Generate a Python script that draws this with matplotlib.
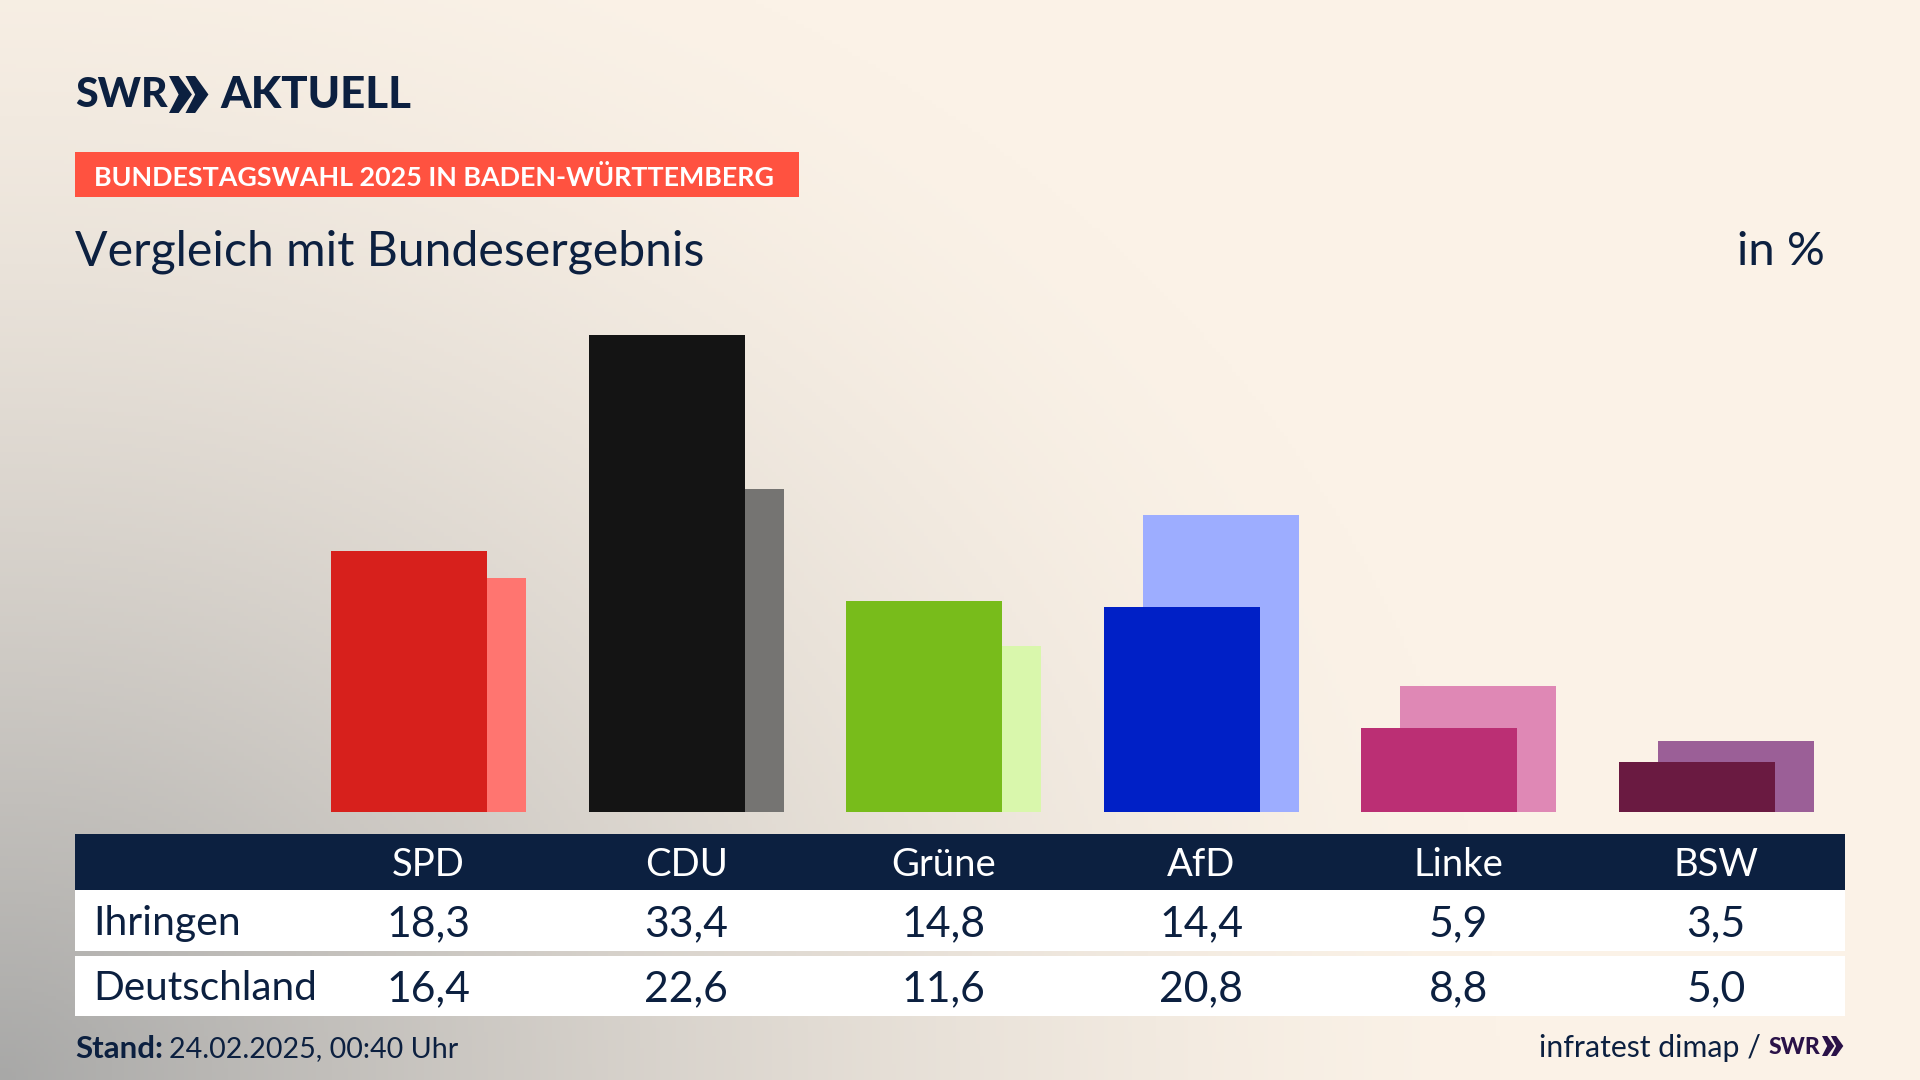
import numpy as np
import matplotlib
matplotlib.use("Agg")
import matplotlib.pyplot as plt
from matplotlib.patches import Rectangle, Polygon

plt.rcParams['font.family'] = ['Lato', 'DejaVu Sans']

parties = ["SPD", "CDU", "Grüne", "AfD", "Linke", "BSW"]
ihringen = [18.3, 33.4, 14.8, 14.4, 5.9, 3.5]
deutschland = [16.4, 22.6, 11.6, 20.8, 8.8, 5.0]
ihringen_labels = ["18,3", "33,4", "14,8", "14,4", "5,9", "3,5"]
deutschland_labels = ["16,4", "22,6", "11,6", "20,8", "8,8", "5,0"]
colors_dark = ["#d7201c", "#141414", "#78bc1b", "#0020c6", "#bb2f74", "#6a1a41"]
colors_light = ["#ff7570", "#757472", "#d9f7ac", "#9dadff", "#df88b5", "#9b5f97"]

NAVY = "#0c2040"
W, H = 1920, 1080

fig = plt.figure(figsize=(19.2, 10.8), dpi=100)

# background: cream with a grey glow out of the lower left corner
bg = fig.add_axes([0, 0, 1, 1])
bg.axis("off")
yy, xx = np.mgrid[0:H:270j, 0:W:480j]
d = np.sqrt((xx / 1500.0) ** 2 + ((H - yy) / 1250.0) ** 2)
mix = np.clip(1 - d, 0, 1) ** 1.5
cream = np.array([251, 242, 231]) / 255
grey = np.array([168, 168, 167]) / 255
img = cream + (grey - cream) * mix[..., None]
bg.imshow(img, extent=(0, W, H, 0), aspect="auto", zorder=0)
bg.set_xlim(0, W)
bg.set_ylim(H, 0)

# bars, in percent on their own axes
base_px, top_px = 812, 300
px_per_unit = 14.27
group0, group_step = 428.6, 257.5
ax = fig.add_axes([0, 1 - base_px / H, 1, (base_px - top_px) / H])
ax.patch.set_alpha(0)
ax.axis("off")
ax.set_xlim(-group0 / group_step, (W - group0) / group_step)
ax.set_ylim(0, (base_px - top_px) / px_per_unit)
x = np.arange(len(parties))
bar_w = 156 / group_step
offset = 19.5 / group_step
ax.bar(x + offset, deutschland, bar_w, color=colors_light, zorder=1)
ax.bar(x - offset, ihringen, bar_w, color=colors_dark, zorder=2)

# everything else in pixel coordinates
ov = fig.add_axes([0, 0, 1, 1])
ov.patch.set_alpha(0)
ov.axis("off")
ov.set_xlim(0, W)
ov.set_ylim(H, 0)


def chevrons(x0, y0, h, color):
    w = h * 0.62
    for k in range(2):
        xs = x0 + k * w * 0.72
        ov.add_patch(Polygon([(xs, y0), (xs + w * 0.42, y0), (xs + w, y0 + h / 2),
                              (xs + w * 0.42, y0 + h), (xs, y0 + h), (xs + w * 0.42, y0 + h / 2)],
                             closed=True, color=color, lw=0))


# logo
ov.text(75, 95, "SWR", fontsize=29.5, fontweight="black", color=NAVY, va="center", ha="left")
chevrons(169, 76, 37, NAVY)
ov.text(220, 95, "AKTUELL", fontsize=31.5, fontweight="black", color=NAVY, va="center", ha="left")

# header
ov.add_patch(Rectangle((75, 152), 724, 45, color="#ff5240", lw=0))
ov.text(94, 177, "BUNDESTAGSWAHL 2025 IN BADEN-WÜRTTEMBERG", fontsize=19.4, fontweight="bold",
        color="white", va="center", ha="left")
ov.text(75, 252, "Vergleich mit Bundesergebnis", fontsize=34.7, color=NAVY, va="center", ha="left")
ov.text(1825, 252, "in %", fontsize=34, color=NAVY, va="center", ha="right")

# table
ov.add_patch(Rectangle((75, 834), 1770, 56, color=NAVY, lw=0))
ov.add_patch(Rectangle((75, 890), 1770, 61, color="white", lw=0))
ov.add_patch(Rectangle((75, 956), 1770, 60, color="white", lw=0))
ov.text(93.5, 924, "Ihringen", fontsize=29.5, color=NAVY, va="center", ha="left")
ov.text(93.5, 989, "Deutschland", fontsize=29.2, color=NAVY, va="center", ha="left")
for i, name in enumerate(parties):
    cx = group0 + group_step * i
    ov.text(cx, 865, name, fontsize=27.5, color="white", va="center", ha="center")
    ov.text(cx, 924, ihringen_labels[i], fontsize=30.8, color=NAVY, va="center", ha="center")
    ov.text(cx, 989, deutschland_labels[i], fontsize=30.8, color=NAVY, va="center", ha="center")

# footer
ov.text(75, 1049, "Stand:", fontsize=22.5, fontweight="bold", color=NAVY, va="center", ha="left")
ov.text(169, 1049, "24.02.2025, 00:40 Uhr", fontsize=20.6, color=NAVY, va="center", ha="left")
ov.text(1761, 1048, "infratest dimap /", fontsize=21.8, color=NAVY, va="center", ha="right")
ov.text(1769, 1047, "SWR", fontsize=16.5, fontweight="black", color="#2a1248", va="center", ha="left")
chevrons(1822, 1036, 20, "#2a1248")

fig.savefig("out.png", dpi=100)
